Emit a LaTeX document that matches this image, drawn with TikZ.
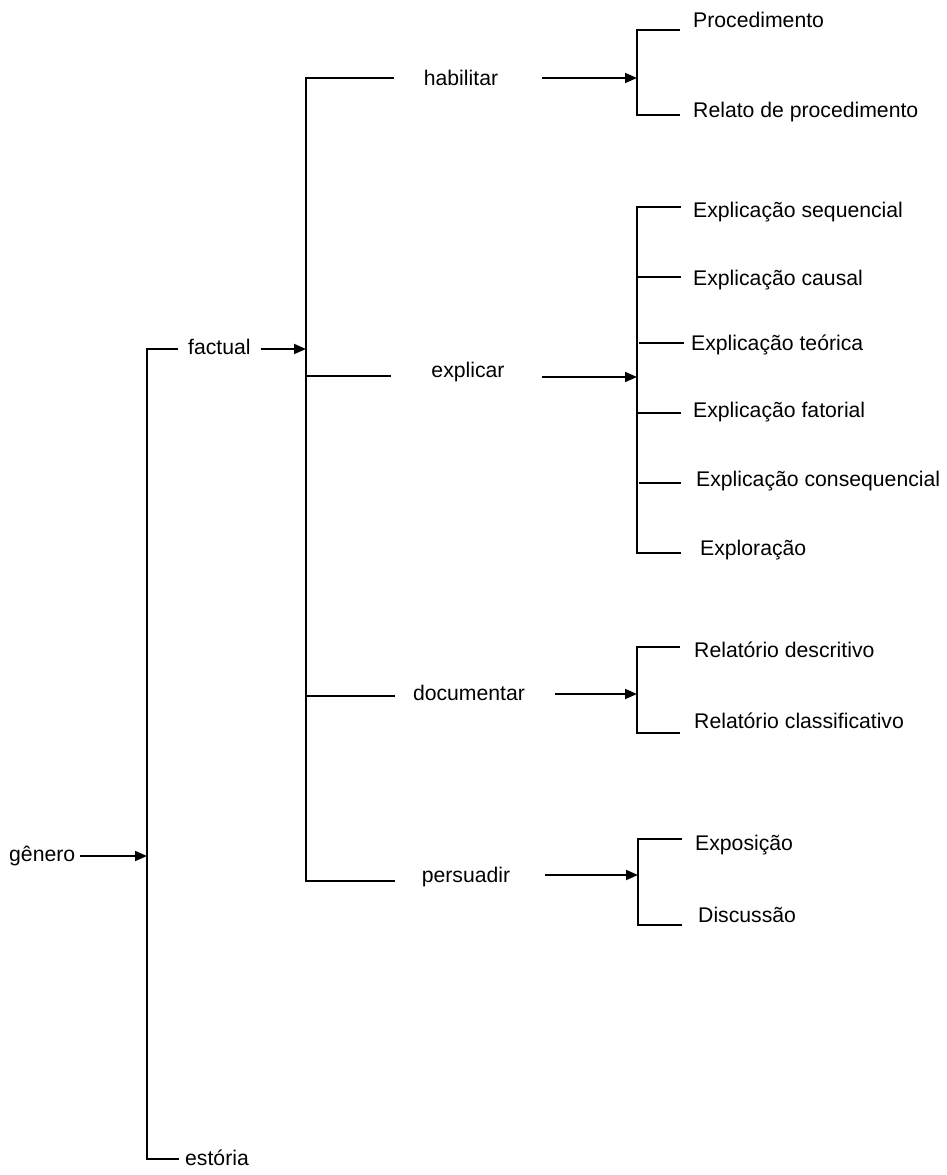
\documentclass[tikz,border=0pt]{standalone}
\usepackage{fontspec}
\setmainfont{Liberation Sans}
\usetikzlibrary{arrows.meta}
\begin{document}
\begin{tikzpicture}[x=1pt,y=-1pt,
  ln/.style={line width=1.8pt,line cap=rect},
  arr/.style={line width=1.8pt,-{Triangle[length=12pt,width=10pt]}},
  lbl/.style={inner sep=0pt,anchor=west,text height=15pt,text depth=4pt,font=\fontsize{21.2}{24}\selectfont},
  mid/.style={inner sep=0pt,anchor=center,text height=15pt,text depth=4pt,font=\fontsize{21.2}{24}\selectfont}]
\useasboundingbox (0,0) rectangle (946,1175);
\fill[white] (0,0) rectangle (946,1175);

% level 0
\node[lbl] (gen) at (9,856) {gênero};
\coordinate (b0) at (147,856);
\coordinate (b0t) at (147,349);
\coordinate (b0b) at (147,1159);
\coordinate (b0te) at (177,349);
\coordinate (b0be) at (178,1159);
\draw[arr] ([xshift=5pt]gen.east) -- (b0);
\draw[ln] (b0te) -- (b0t) -- (b0b) -- (b0be);
\node[lbl] (fac) at (188,349) {factual};
\node[lbl] (est) at (185,1160) {estória};

% factual bracket
\coordinate (b1) at (306,349);
\draw[arr] ([xshift=10pt]fac.east) -- (b1);
\coordinate (b1a) at (306,78);   \coordinate (b1ae) at (393,78);
\coordinate (b1b) at (306,376);  \coordinate (b1be) at (390,376);
\coordinate (b1c) at (306,696);  \coordinate (b1ce) at (394,696);
\coordinate (b1d) at (306,881);  \coordinate (b1de) at (394,881);
\draw[ln] (b1ae) -- (b1a) -- (b1d) -- (b1de);
\draw[ln] (b1b) -- (b1be);
\draw[ln] (b1c) -- (b1ce);

\node[mid] (hab) at (461,80) {habilitar};
\node[mid] (exp) at (468,372) {explicar};
\node[mid] (doc) at (469,695) {documentar};
\node[mid] (per) at (466,877) {persuadir};

% habilitar
\coordinate (r1) at (637,78);
\coordinate (r1s) at (542,78);
\draw[arr] (r1s) -- (r1);
\coordinate (r1t) at (637,30);  \coordinate (r1te) at (679,30);
\coordinate (r1b) at (637,115); \coordinate (r1be) at (679,115);
\draw[ln] (r1te) -- (r1t) -- (r1b) -- (r1be);
\node[lbl] (p1) at (693,22) {Procedimento};
\node[lbl] (p2) at (693,112) {Relato de procedimento};

% explicar
\coordinate (r2) at (637,377);
\coordinate (r2s) at (542,377);
\draw[arr] (r2s) -- (r2);
\coordinate (r2t) at (637,207);  \coordinate (r2te) at (680,207);
\coordinate (r2b) at (637,553);  \coordinate (r2be) at (680,553);
\draw[ln] (r2te) -- (r2t) -- (r2b) -- (r2be);
\draw[ln] (637,277) -- (680,277);
\draw[ln] (640,343) -- (683,343);
\draw[ln] (637,413) -- (680,413);
\draw[ln] (640,483) -- (680,483);
\node[lbl] (e1) at (693,212) {Explicação sequencial};
\node[lbl] (e2) at (693,280) {Explicação causal};
\node[lbl] (e3) at (691,345) {Explicação teórica};
\node[lbl] (e4) at (693,412) {Explicação fatorial};
\node[lbl] (e5) at (696,481) {Explicação consequencial};
\node[lbl] (e6) at (700,550) {Exploração};

% documentar
\coordinate (r3) at (637,694);
\coordinate (r3s) at (555,694);
\draw[arr] (r3s) -- (r3);
\coordinate (r3t) at (637,647);  \coordinate (r3te) at (679,647);
\coordinate (r3b) at (637,733);  \coordinate (r3be) at (679,733);
\draw[ln] (r3te) -- (r3t) -- (r3b) -- (r3be);
\node[lbl] (d1) at (694,652) {Relatório descritivo};
\node[lbl] (d2) at (694,723) {Relatório classificativo};

% persuadir
\coordinate (r4) at (638,875);
\coordinate (r4s) at (545,875);
\draw[arr] (r4s) -- (r4);
\coordinate (r4t) at (638,839);  \coordinate (r4te) at (681,839);
\coordinate (r4b) at (638,925);  \coordinate (r4be) at (681,925);
\draw[ln] (r4te) -- (r4t) -- (r4b) -- (r4be);
\node[lbl] (s1) at (695,845) {Exposição};
\node[lbl] (s2) at (698,917) {Discussão};
\end{tikzpicture}
\end{document}
